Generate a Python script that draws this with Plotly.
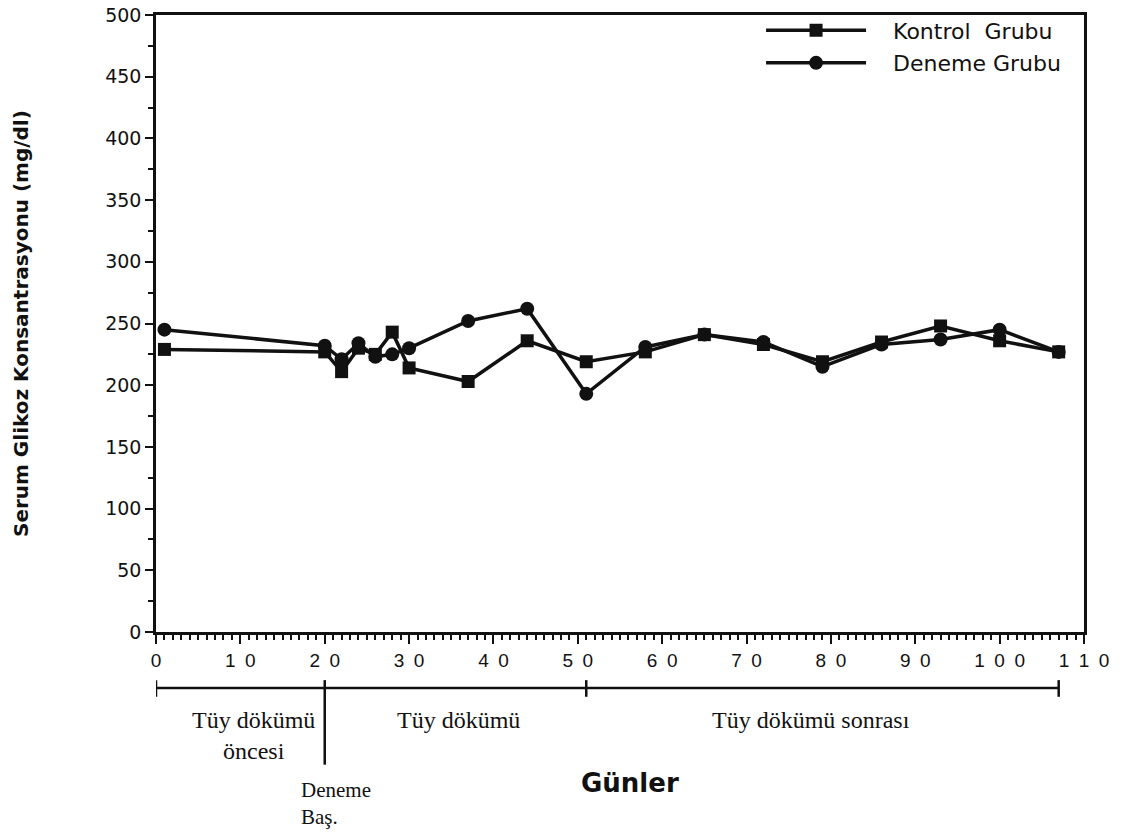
import plotly.graph_objects as go

# ---- data ----
days = [1, 20, 22, 24, 26, 28, 30, 37, 44, 51, 58, 65, 72, 79, 86, 93, 100, 107]
kontrol = [229, 227, 211, 230, 225, 243, 214, 203, 236, 219, 227, 241, 233, 219, 235, 248, 236, 227]
deneme = [245, 232, 221, 234, 223, 225, 230, 252, 262, 193, 231, 241, 235, 215, 233, 237, 245, 227]

x_tick_vals = [0, 10, 20, 30, 40, 50, 60, 70, 80, 90, 100, 110]
x_tick_text = ["0", "1 0", "2 0", "3 0", "4 0", "5 0", "6 0", "7 0", "8 0", "9 0", "1 0 0", "1 1 0"]
y_tick_vals = [0, 50, 100, 150, 200, 250, 300, 350, 400, 450, 500]

series_names = ["Kontrol  Grubu", "Deneme Grubu"]

# period bracket below the axis (day positions)
period_bounds = [0, 20, 51, 107]
period_labels = ["Tüy dökümü<br>öncesi", "Tüy dökümü", "Tüy dökümü sonrası"]
period_label_x = [11.5, 35.8, 77.6]

SP = "\u2002"  # wide gap used in the spaced-out tick digits
x_tick_text = [t.replace(" ", SP) for t in x_tick_text]
legend_names = ["\u2003" + n.replace("  ", "\u00a0 ") for n in series_names]

fig = go.Figure()
fig.add_trace(go.Scatter(
    x=days, y=kontrol, name=legend_names[0], mode="lines+markers",
    line=dict(color="#111", width=3.5),
    marker=dict(symbol="square", size=13, color="#111"),
    legendgroup="k",
))
fig.add_trace(go.Scatter(
    x=days, y=deneme, name=legend_names[1], mode="lines+markers",
    line=dict(color="#111", width=3.5),
    marker=dict(symbol="circle", size=14, color="#111"),
    legendgroup="d",
))

fig.update_layout(
    width=1129, height=839,
    margin=dict(l=156, r=45, t=15, b=207, autoexpand=False),
    paper_bgcolor="white", plot_bgcolor="rgba(0,0,0,0)",
    showlegend=True,
    legend=dict(
        x=0.652, y=1.009, xanchor="left", yanchor="top",
        bgcolor="rgba(0,0,0,0)", itemwidth=100,
        font=dict(family="DejaVu Sans", size=22, color="#111"),
        traceorder="grouped", tracegroupgap=1,
    ),
    font=dict(family="Liberation Sans", color="#111"),
)

fig.update_xaxes(
    range=[0, 110], tickmode="array", tickvals=x_tick_vals, ticktext=x_tick_text,
    ticks="outside", ticklen=9, tickwidth=2, tickcolor="#111",
    showline=True, linecolor="#111", linewidth=2.5, mirror=True,
    showgrid=False, zeroline=False, automargin=False, ticklabeloverflow="allow",
    tickfont=dict(family="Liberation Sans", size=19, color="#111"),
    minor=dict(dtick=1, ticks="outside", ticklen=5, tickwidth=1.5, tickcolor="#111", showgrid=False),
)
fig.update_yaxes(
    range=[0, 500], tickmode="array", tickvals=y_tick_vals,
    ticks="outside", ticklen=8, tickwidth=2, tickcolor="#111",
    showline=True, linecolor="#111", linewidth=2.5, mirror=True,
    showgrid=False, zeroline=False, automargin=False, ticklabeloverflow="allow",
    tickfont=dict(family="DejaVu Sans", size=19, color="#111"),
    minor=dict(dtick=25, tick0=0, ticks="outside", ticklen=5, tickwidth=2, tickcolor="#111", showgrid=False),
)

# y-axis title
fig.add_annotation(
    text="<b>Serum Glikoz Konsantrasyonu (mg/dl)</b>", textangle=-90,
    xref="paper", yref="paper", x=-0.146, y=0.5, xanchor="center", yanchor="middle",
    showarrow=False, font=dict(family="DejaVu Sans", size=20, color="#111"),
)
# x-axis title
fig.add_annotation(
    text="<b>Günler</b>", xref="paper", yref="paper", x=0.511, y=-0.245,
    xanchor="center", yanchor="middle", showarrow=False,
    font=dict(family="DejaVu Sans", size=26, color="#111"),
)

# period bracket
yb = -0.0908
fig.add_shape(type="line", xref="x", yref="paper", x0=period_bounds[0], x1=period_bounds[-1],
              y0=yb, y1=yb, line=dict(color="#111", width=2.5))
for b in period_bounds:
    if b == 20:
        y0, y1 = -0.078, -0.215
    else:
        y0, y1 = -0.078, -0.105
    fig.add_shape(type="line", xref="x", yref="paper", x0=b, x1=b, y0=y0, y1=y1,
                  line=dict(color="#111", width=2.5))

for lab, lx in zip(period_labels, period_label_x):
    fig.add_annotation(
        text=lab, xref="x", yref="paper", x=lx, y=-0.118, xanchor="center", yanchor="top",
        showarrow=False, font=dict(family="Liberation Serif", size=24, color="#111"),
    )
fig.add_annotation(
    text="Deneme<br>Baş.", xref="x", yref="paper", x=16.9, y=-0.233, xanchor="left", yanchor="top",
    align="left", showarrow=False, font=dict(family="Liberation Serif", size=21, color="#111"),
)

# remove the browser's default 8px page margin so the figure fills the window exactly
fig.write_html("out.html", config=dict(displayModeBar=False),
               post_script="document.body.style.margin='0';")
